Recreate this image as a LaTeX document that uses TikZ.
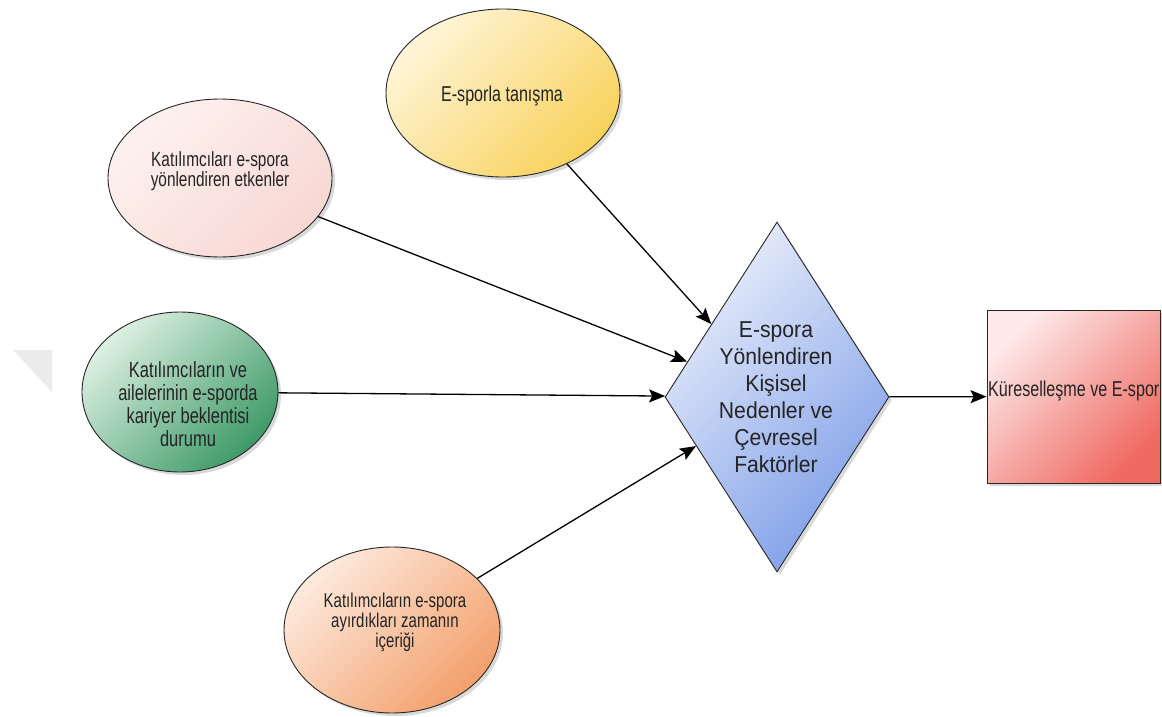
\documentclass[tikz,border=0pt]{standalone}
\usepackage{fontspec}
\setmainfont{Liberation Sans}[FakeStretch=0.75]
\newfontfamily\diafont{Liberation Sans}[FakeStretch=0.92]
\usetikzlibrary{shapes.geometric,arrows.meta,shadows}

\definecolor{yellowA}{HTML}{FFF5D8}
\definecolor{yellowB}{HTML}{F8D25C}
\definecolor{pinkA}{HTML}{FDF1EF}
\definecolor{pinkB}{HTML}{F8D8D3}
\definecolor{greenA}{HTML}{DDF0E2}
\definecolor{greenB}{HTML}{3E9A68}
\definecolor{orangeA}{HTML}{FDEADD}
\definecolor{orangeB}{HTML}{F3A06C}
\definecolor{blueA}{HTML}{E8EDFA}
\definecolor{blueB}{HTML}{7F9FE8}
\definecolor{redA}{HTML}{FDE9E9}
\definecolor{redB}{HTML}{F06A62}
\definecolor{inkgray}{HTML}{242424}

\begin{document}
\begin{tikzpicture}[x=1pt,y=-1pt,
  shapebase/.style={draw=black!85, line width=0.9pt, inner sep=0pt,
    drop shadow={shadow xshift=3pt, shadow yshift=-3pt, opacity=0.15, fill=black}},
  oval/.style={shapebase, ellipse},
  diag/.style 2 args={top color=#1, bottom color=#2, shading angle=45},
  lbl/.style={text=inkgray, align=center, inner sep=0pt},
  link/.style={-{Stealth[length=16pt,width=13pt,inset=3pt]}, line width=1.3pt, black},
  ]
\useasboundingbox (0,0) rectangle (1162,717);

% faint corner mark on the left
\fill[black!8] (13,350) -- (52,350) -- (52,392) -- cycle;

% factor ovals
\node[oval, minimum width=234pt, minimum height=168pt,
      diag={yellowA}{yellowB}] (yel) at (503,93) {};
\node[oval, minimum width=224pt, minimum height=158pt,
      diag={pinkA}{pinkB}] (pink) at (220,178) {};
\node[oval, minimum width=196pt, minimum height=160pt,
      diag={greenA}{greenB}] (grn) at (180,392) {};
\node[oval, minimum width=216pt, minimum height=166pt,
      diag={orangeA}{orangeB}] (org) at (392,630) {};

% central decision shape and outcome box
\node[shapebase, diamond, minimum width=224pt, minimum height=350pt,
      diag={blueA}{blueB}] (dia) at (777,397) {};
\node[shapebase, rectangle, minimum width=173pt, minimum height=173pt,
      diag={redA}{redB}] (glob) at (1073.5,396.5) {};

% labels
\node[lbl, font=\fontsize{21.5}{20}\selectfont] (yeltxt) at (502,96)
  {E-sporla tanışma};
\node[lbl, font=\fontsize{20.5}{18.5}\selectfont] (pinktxt) at (220,171)
  {Katılımcıları e-spora\\yönlendiren etkenler};
\node[lbl, font=\fontsize{22}{23}\selectfont] (grntxt) at (188,404)
  {Katılımcıların ve\\ailelerinin e-sporda\\kariyer beklentisi\\durumu};
\node[lbl, font=\fontsize{20}{20}\selectfont] (orgtxt) at (395,622)
  {Katılımcıların e-spora\\ayırdıkları zamanın\\içeriği};
\node[lbl, font=\diafont\fontsize{23}{27}\selectfont] (diatxt) at (776,397)
  {E-spora\\Yönlendiren\\Kişisel\\Nedenler ve\\Çevresel\\Faktörler};
\node[lbl, anchor=west, font=\fontsize{21.5}{20}\selectfont] (globtxt) at (988,390.5)
  {Küreselleşme ve E-spor};

% connectors
\draw[link] (yel) -- (dia);
\draw[link] (pink) -- (dia);
\draw[link] (grn) -- (dia);
\draw[link] (org) -- (dia);
\draw[link] (dia) -- (glob);
\end{tikzpicture}
\end{document}
